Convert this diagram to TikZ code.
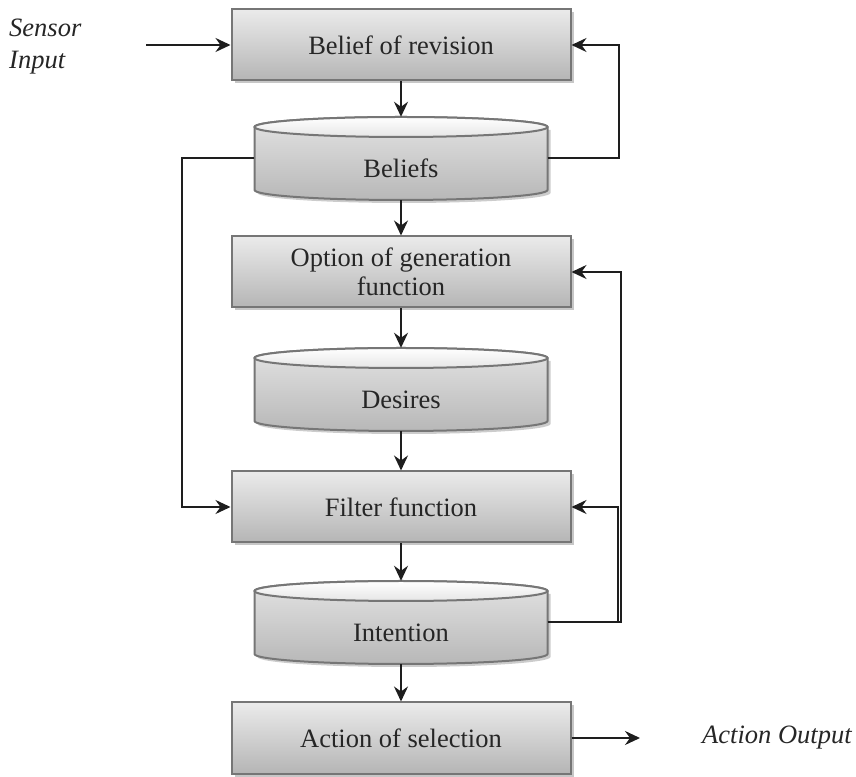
\documentclass[tikz,border=0pt]{standalone}
\usepackage{xcolor}
\usepackage{tikz}
\usepackage{fontspec}
\setmainfont{Liberation Serif}
\usetikzlibrary{positioning,shapes,shadows,arrows.meta}

\definecolor{boxline}{HTML}{767676}
\definecolor{inkline}{HTML}{1E1E1E}
\definecolor{inktext}{HTML}{262626}

% data store drawn as a flat cylinder: name, x, y, text
\newcommand{\datastore}[4]{%
	\begin{scope}[shift={(#2,#3)}]
		\fill[black!20] (-143.5,28.5) -- (-143.5,-34.5)
			arc[start angle=180,end angle=360,x radius=146.5,y radius=10]
			-- (149.5,28.5) -- cycle;
		\draw[storeline, top color=black!11, bottom color=black!28]
			(-146.5,31.5) -- (-146.5,-31.5)
			arc[start angle=180,end angle=360,x radius=146.5,y radius=10]
			-- (146.5,31.5)
			arc[start angle=0,end angle=180,x radius=146.5,y radius=10] -- cycle;
		\draw[storeline, top color=white, bottom color=black!10]
			(0,31.5) ellipse[x radius=146.5,y radius=10];
	\end{scope}
	\node[storebox] (#1) at (#2,#3) {};
	\node[storelabel] (#1-text) at ([yshift=-10]#1.center) {#4};
}

\begin{document}
\begin{tikzpicture}[
			x=1pt, y=1pt,
			storeline/.style = {draw=boxline, line width=2pt},
			storebox/.style = {shape=rectangle, inner sep=0pt,
				minimum width=293pt, minimum height=83pt},
			storelabel/.style = {text=inktext, inner sep=0pt,
				font=\fontsize{26.5}{29}\selectfont},
			procbox/.style = {shape=rectangle, draw=boxline, line width=2pt,
				minimum width=339pt, minimum height=71pt, align=center,
				text=inktext, font=\fontsize{26.5}{29}\selectfont,
				top color=black!8, bottom color=black!29,
				drop shadow={shadow xshift=3pt, shadow yshift=-3pt,
					fill=black!22, opacity=1}},
			outlabel/.style = {text=inktext, inner sep=0pt, align=left,
				font=\fontsize{26.5}{32}\selectfont\itshape},
			flow/.style = {draw=inkline, line width=2pt,
				-{Stealth[length=15pt, width=14pt, inset=5pt]}}]
			\useasboundingbox (0,0) rectangle (856,776);

			% process boxes
			\node[procbox] (revision) at (401,731) {Belief of revision};
			\node[procbox] (option) at (401,504) {Option of generation\\function};
			\node[procbox] (filter) at (401,269) {Filter function};
			\node[procbox] (selection) at (401,38) {Action of selection};

			% stores
			\datastore{beliefs}{401}{617.5}{Beliefs}
			\datastore{desires}{401}{386.5}{Desires}
			\datastore{intention}{401}{153.5}{Intention}

			% outside world
			\node[outlabel, anchor=west] (sensor) at (9,729) {Sensor\\Input};
			\coordinate (sensorin) at (146,731);
			\coordinate (actout) at (640,38);
			\node[outlabel, anchor=west] (output) at (702,38) {Action Output};

			% main chain
			\draw[flow] (sensorin) -- (revision.west);
			\draw[flow] (revision.south) -- (beliefs.north);
			\draw[flow] (beliefs.south) -- (option.north);
			\draw[flow] (option.south) -- (desires.north);
			\draw[flow] (desires.south) -- (filter.north);
			\draw[flow] (filter.south) -- (intention.north);
			\draw[flow] (intention.south) -- (selection.north);
			\draw[flow] (selection.east) -- (actout);

			% feedback lines
			\draw[flow] (beliefs.east) -- ++(71,0) |- (revision.east);
			\draw[flow] (beliefs.west) -- ++(-72,0) |- (filter.west);
			\draw[flow] (intention.east) -- ++(73,0) |- (option.east);
			\draw[flow] (intention.east) -- ++(70.5,0) |- (filter.east);
			\end{tikzpicture}
\end{document}
